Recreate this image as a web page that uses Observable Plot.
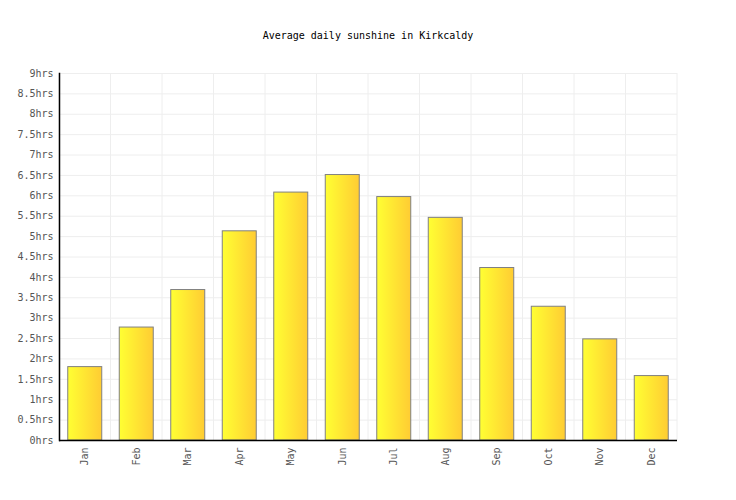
<!DOCTYPE html>
<html>
<head>
<meta charset="utf-8">
<script src="https://cdn.jsdelivr.net/npm/d3@7"></script>
<script src="https://cdn.jsdelivr.net/npm/@observablehq/plot@0.6"></script>
<style>
  body { margin: 0; background: #fff; }
  #wrap { position: relative; width: 736px; height: 500px; }
  #title { position: absolute; top: 30px; left: 0; width: 736px; text-align: center;
    font-family: "DejaVu Sans Mono", monospace; font-size: 10px; color: #000; }
  svg { font-family: "DejaVu Sans Mono", monospace; }
</style>
</head>
<body>
<div id="wrap"><div id="title">Average daily sunshine in Kirkcaldy</div></div>
<script>
const months = ["Jan","Feb","Mar","Apr","May","Jun","Jul","Aug","Sep","Oct","Nov","Dec"];
const sunshine = [1.8, 2.77, 3.69, 5.13, 6.08, 6.51, 5.97, 5.46, 4.23, 3.28, 2.48, 1.58];
const yTicks = [0,0.5,1,1.5,2,2.5,3,3.5,4,4.5,5,5.5,6,6.5,7,7.5,8,8.5,9];

const data = months.map((m, i) => ({month: m, value: sunshine[i]}));
const padInner = 0.34;

const defs = () => {
  const d = d3.create("svg:defs");
  const g = d.append("linearGradient").attr("id", "barGrad")
    .attr("x1", "0").attr("x2", "1").attr("y1", "0").attr("y2", "0");
  g.append("stop").attr("offset", "0%").attr("stop-color", "#ffff33");
  g.append("stop").attr("offset", "100%").attr("stop-color", "#ffcc33");
  return d.node();
};

const vGrid = (index, scales, values, dims) => {
  const x = scales.x;
  const step = (dims.width - dims.marginLeft - dims.marginRight) / months.length;
  const bounds = months.map(m => x(m) - step * padInner / 2);
  bounds.push(dims.width - dims.marginRight);
  const g = d3.create("svg:g");
  g.selectAll("line").data(bounds).join("line")
    .attr("x1", d => d).attr("x2", d => d)
    .attr("y1", dims.marginTop).attr("y2", dims.height - dims.marginBottom)
    .attr("stroke", "#eeeeee").attr("stroke-width", 1);
  return g.node();
};

const chart = Plot.plot({
  width: 736,
  height: 500,
  marginLeft: 59,
  marginRight: 59,
  marginTop: 73,
  marginBottom: 60,
  style: {fontFamily: "DejaVu Sans Mono, monospace", fontSize: "10px", background: "transparent"},
  x: {domain: months, paddingInner: padInner, paddingOuter: padInner / 2, round: false, label: null},
  y: {domain: [0, 9], label: null},
  marks: [
    defs,
    Plot.gridY(yTicks, {stroke: "#eeeeee", strokeOpacity: 1}),
    vGrid,
    Plot.barY(data, {x: "month", y: "value", fill: "url(#barGrad)", stroke: "#808080", strokeWidth: 1}),
    Plot.axisY(yTicks, {tickSize: 0, tickPadding: 6, tickFormat: d => d + "hrs", fill: "#555", fontSize: 10}),
    Plot.axisX({tickSize: 0, tickPadding: 7, tickRotate: -90, fill: "#555", fontSize: 10}),
    Plot.ruleY([0], {stroke: "#000", strokeWidth: 1.5}),
    Plot.frame({anchor: "left", stroke: "#000", strokeWidth: 1.5})
  ]
});
document.getElementById("wrap").appendChild(chart);
chart.style.position = "absolute";
chart.style.top = "0";
chart.style.left = "0";
</script>
</body>
</html>
